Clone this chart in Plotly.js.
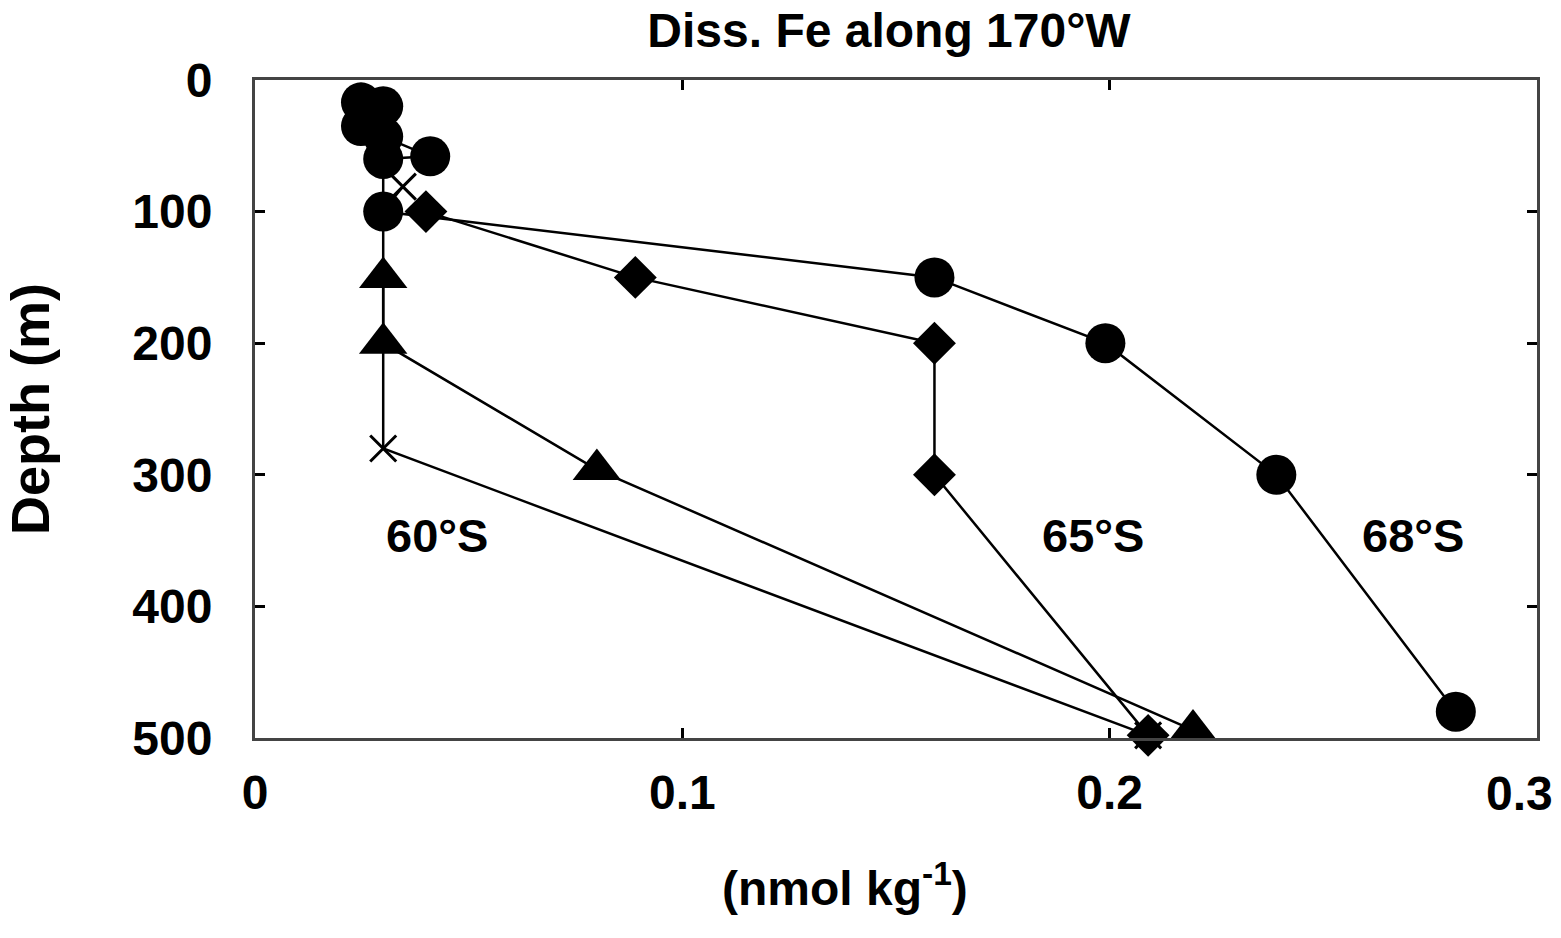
<!DOCTYPE html>
<html>
<head>
<meta charset="utf-8">
<script src="https://cdn.plot.ly/plotly-3.0.1.min.js"></script>
<style>html,body{margin:0;padding:0;background:#fff;}#chart{width:1561px;height:938px;}</style>
</head>
<body>
<div id="chart"></div>
<script>
// Dissolved Fe (nmol kg-1) vs depth (m) along 170°W
const depth68 = [17, 20, 35, 43, 58, 60, 100, 150, 200, 300, 480];
const fe68    = [0.0248, 0.030, 0.0248, 0.030, 0.041, 0.030, 0.030, 0.159, 0.199, 0.239, 0.281];

const depth65 = [100, 150, 200, 300, 498];
const fe65    = [0.040, 0.089, 0.159, 0.159, 0.209];

const depthTri = [150, 200, 296, 494];
const feTri    = [0.030, 0.030, 0.080, 0.2195];

const depthX = [81, 100, 280, 498];
const feX    = [0.0346, 0.030, 0.030, 0.209];

const stationLabels = ["60°S", "65°S", "68°S"];
const labelFe = [0.0426, 0.196, 0.271];
const labelDepth = [346, 346, 346];

const xTicks = [0, 0.1, 0.2, 0.3];
const xTickText = ["0", "0.1", "0.2", "0.3"];
const yTicks = [0, 100, 200, 300, 400, 500];

const FONT = "Liberation Sans, Arial, Helvetica, sans-serif";
const lineStyle = {color: "#000", width: 2.5};
const boldFont = (s) => ({family: FONT, size: s, color: "#000", weight: "bold"});

const traces = [
  {x: fe68, y: depth68, mode: "lines+markers", cliponaxis: false,
   line: lineStyle, marker: {symbol: "circle", size: 40, color: "#000"}},
  {x: fe65, y: depth65, mode: "lines+markers", cliponaxis: false,
   line: lineStyle, marker: {symbol: "diamond", size: 33, color: "#000"}},
  {x: feTri, y: depthTri, mode: "lines+markers", cliponaxis: false,
   line: lineStyle, marker: {symbol: "triangle-up", size: 42, color: "#000"}},
  {x: feX, y: depthX, mode: "lines+markers", cliponaxis: false,
   line: lineStyle, marker: {symbol: "x-thin", size: 26, color: "#000", line: {color: "#000", width: 3}}}
];

const annotations = stationLabels.map((t, i) => ({
  x: labelFe[i], y: labelDepth[i], xref: "x", yref: "y", text: t, showarrow: false,
  font: boldFont(47)
}));
// x-axis title
annotations.push({
  x: (845 - 255) / (1537 - 255), xref: "paper", y: -(885 - 738) / (738 - 80), yref: "paper",
  xanchor: "center", yanchor: "middle", text: "(nmol kg<sup>-1</sup>)", showarrow: false,
  font: boldFont(48)
});
// last x tick label, pulled inside the page like the reference
annotations.push({
  x: xTicks[3], xref: "x", y: -(794 - 738) / (738 - 80), yref: "paper",
  xanchor: "right", yanchor: "middle", xshift: 18, text: xTickText[3], showarrow: false,
  font: boldFont(48)
});

const layout = {
  width: 1561, height: 938,
  margin: {l: 255, r: 24, t: 80, b: 200},
  paper_bgcolor: "#fff", plot_bgcolor: "#fff",
  showlegend: false,
  title: {text: "Diss. Fe along 170°W", x: 889 / 1561, xref: "container", xanchor: "center",
          y: 1 - 30 / 938, yref: "container", yanchor: "middle",
          font: boldFont(48)},
  xaxis: {
    range: [0, 0.3], tickvals: xTicks.slice(0, 3), ticktext: xTickText.slice(0, 3),
    showgrid: false, zeroline: false, showline: true, linecolor: "#444", linewidth: 3, mirror: "ticks",
    ticks: "inside", ticklen: 10, tickwidth: 3, tickcolor: "#000",
    ticklabelstandoff: 10,
    tickfont: boldFont(48)
  },
  yaxis: {
    range: [500, 0], tickvals: yTicks,
    showgrid: false, zeroline: false, showline: true, linecolor: "#444", linewidth: 3, mirror: "ticks",
    ticks: "inside", ticklen: 10, tickwidth: 3, tickcolor: "#000",
    ticklabelstandoff: 30,
    tickfont: boldFont(48),
    title: {text: "Depth (m)", standoff: 72, font: boldFont(54)}
  },
  annotations: annotations
};

Plotly.newPlot("chart", traces, layout, {staticPlot: true, displayModeBar: false});
</script>
</body>
</html>
